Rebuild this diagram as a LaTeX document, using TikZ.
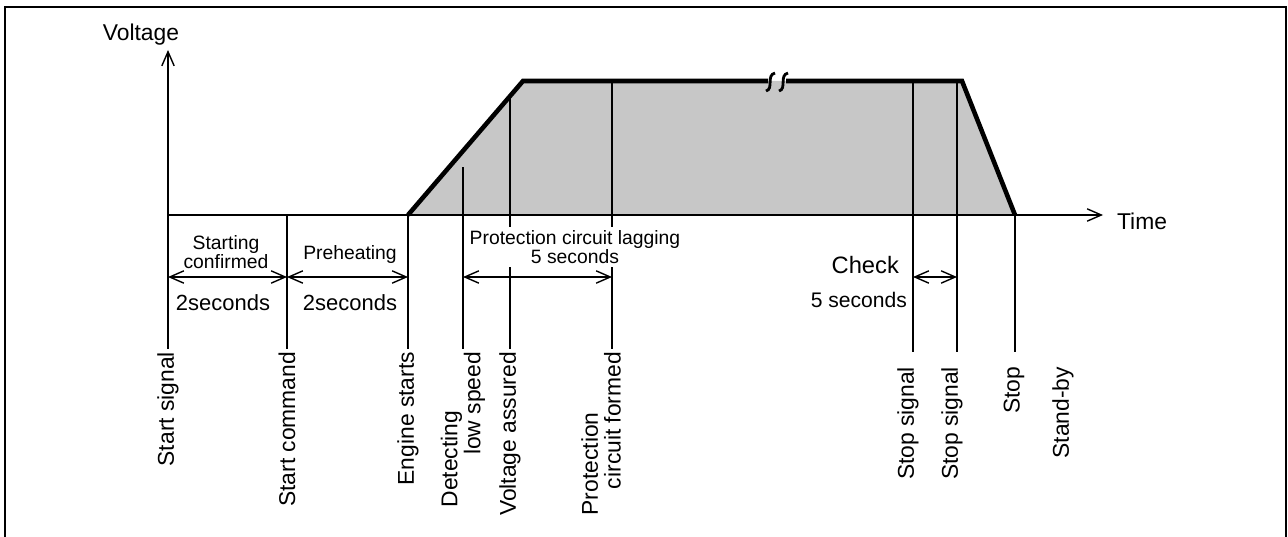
\documentclass[tikz,border=0pt]{standalone}
\usepackage{fontspec}
\setmainfont{Liberation Sans}
\usetikzlibrary{arrows.meta}

\tikzset{
  thinline/.style={line width=0.8pt},
  volt/.style={line width=2.6pt, line join=miter},
  dim/.style={line width=0.8pt, <->},
  vlabel/.style={rotate=90, anchor=east, inner sep=1.5pt, align=left, font=\fontsize{13}{13}\selectfont},
  bigtext/.style={inner sep=1pt, font=\fontsize{13}{13}\selectfont},
  smalltext/.style={inner sep=1pt, align=center, font=\fontsize{11}{10}\selectfont},
  sectext/.style={inner sep=1pt, font=\fontsize{12.5}{12.5}\selectfont},
}

\begin{document}
\begin{tikzpicture}[x=0.02cm, y=0.02cm, >={Straight Barb[length=8pt,width=7pt]}]
        \useasboundingbox (0,0) rectangle (1288,-537);
        \draw [line width=1.2pt] (5,-537) -- (5,-7) -- (1286,-7) -- (1286,-537);
        \coordinate (O) at (168,-215);
        \coordinate (ramp0) at (408,-215);
        \coordinate (ramp1) at (523,-81);
        \coordinate (brk0) at (768,-81);
        \coordinate (brk1) at (786,-81);
        \coordinate (ramp2) at (962,-81);
        \coordinate (ramp3) at (1015,-215);
        \coordinate (dimrow) at (0,-277);
        \fill [black!22] (ramp0) -- (ramp1) -- (ramp2) -- (ramp3) -- cycle;
        \foreach \name/\x/\top/\bot in {sig/168/215/349, cmd/287/215/349, eng/408/215/349,
            det/463/167/349, va/510/96/349, pcf/612/81/349,
            stp1/913/81/352, stp2/957/81/352, stop/1015/215/352}
          \draw [thinline] (\x,-\top) coordinate (\name-t) -- (\x,-\bot) coordinate (\name-b);
        \node [vlabel] (sig-l) at (sig-b) {Start signal};
        \node [vlabel] (cmd-l) at (cmd-b) {Start command};
        \node [vlabel] (eng-l) at (eng-b) {Engine starts};
        \node [vlabel] (det-l) at (det-b) {Detecting\\\hspace*{2.3em}low speed};
        \node [vlabel] (va-l) at (va-b) {Voltage assured};
        \node [vlabel] (pcf-l) at (601,-349) {Protection\\\hspace*{1.15em}circuit formed};
        \node [vlabel] (stp1-l) at (908,-364) {Stop signal};
        \node [vlabel] (stp2-l) at (952,-364) {Stop signal};
        \node [vlabel] (stop-l) at (1014,-364) {Stop};
        \node [vlabel] (stby-l) at (1063,-364) {Stand-by};
        \node [smalltext] (conf) at (226,-252) {Starting\\confirmed};
        \node [smalltext] (preh) at (350,-255) {Preheating};
        \node [sectext] (sec1) at (223,-303) {2seconds};
        \node [sectext] (sec2) at (350,-303) {2seconds};
        \node [smalltext, fill=white, inner sep=2pt] (lag) at (575,-247) {Protection circuit lagging\\5 seconds};
        \node [bigtext, anchor=east, font=\fontsize{13.5}{13.5}\selectfont] (chk) at (901,-265) {Check};
        \node [sectext, anchor=east, font=\fontsize{12}{12}\selectfont] (chk5) at (909,-300) {5 seconds};
        \draw [dim] (sig-b |- dimrow) -- (cmd-b |- dimrow);
        \draw [dim] (cmd-b |- dimrow) -- (eng-b |- dimrow);
        \draw [dim] (det-b |- dimrow) -- (pcf-b |- dimrow);
        \draw [dim] (stp1-b |- dimrow) -- (stp2-b |- dimrow);
        \draw [thinline, ->] (O) -- (168,-50) coordinate (vtop);
        \draw [thinline, ->] (O) -- (1103,-215) coordinate (tend);
        \node [bigtext] (vlab) at (141,-35) {Voltage};
        \node [bigtext, anchor=west] (tlab) at (1115,-221) {Time};
        \draw [volt] (ramp0) -- (ramp1) -- (brk0);
        \draw [volt] (brk1) -- (ramp2) -- (ramp3);
        \draw [line width=1.6pt] (766,-91) .. controls (774,-89) and (766,-75) .. (775,-73);
        \draw [line width=1.6pt] (779,-91) .. controls (787,-89) and (779,-75) .. (788,-73);
\end{tikzpicture}
\end{document}
